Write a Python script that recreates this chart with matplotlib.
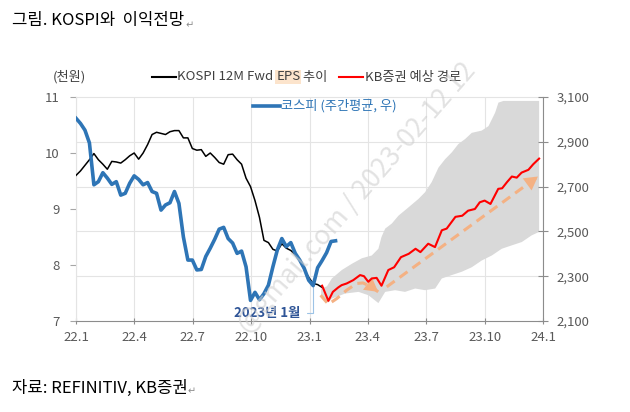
import numpy as np
import matplotlib.pyplot as plt
from matplotlib.lines import Line2D
from matplotlib.ticker import FixedLocator

plt.rcParams['font.family'] = ['Noto Sans CJK KR', 'DejaVu Sans']

# x축: 2022년 1월부터의 개월 수
x_ticks = [0, 3, 6, 9, 12, 15, 18, 21, 24]
x_labels = ['22.1', '22.4', '22.7', '22.10', '23.1', '23.4', '23.7', '23.10', '24.1']
week = 12 / 52.18  # 주간 간격 (개월)

# KOSPI 12M Fwd EPS (천원, 주간)
eps = [9.60, 9.68, 9.78, 9.88, 9.99, 9.88, 9.80, 9.71, 9.85, 9.84,
       9.82, 9.88, 9.95, 10.0, 9.89, 10.0, 10.15, 10.33, 10.37, 10.35,
       10.33, 10.38, 10.40, 10.40, 10.27, 10.27, 10.08, 10.05, 10.06, 9.94,
       10.0, 9.92, 9.83, 9.80, 9.97, 9.98, 9.88, 9.80, 9.55, 9.40,
       9.15, 8.85, 8.44, 8.40, 8.28, 8.25, 8.38, 8.30, 8.26, 8.18,
       8.08, 7.92, 7.78, 7.67, 7.65, 7.60]

# 코스피 주간평균 (우축)
kospi = [3005, 2982, 2952, 2895, 2708, 2722, 2762, 2738, 2710, 2722,
         2662, 2670, 2715, 2748, 2732, 2708, 2718, 2678, 2670, 2595,
         2618, 2628, 2678, 2625, 2475, 2372, 2372, 2328, 2330, 2388,
         2425, 2465, 2510, 2518, 2468, 2448, 2402, 2412, 2342, 2192,
         2228, 2195, 2222, 2260, 2342, 2418, 2468, 2432, 2450, 2402,
         2372, 2335, 2282, 2258, 2338, 2370, 2405, 2455, 2458]

# KB증권 예상 경로 (천원)
fc_x = [12.65, 12.97, 13.2, 13.48, 13.65, 13.91, 14.25, 14.6, 14.8, 15.02,
        15.2, 15.45, 15.7, 16.05, 16.35, 16.7, 17.1, 17.45, 17.7, 18.1,
        18.45, 18.8, 19.05, 19.5, 19.85, 20.15, 20.5, 20.75, 21.0, 21.3,
        21.7, 21.9, 22.15, 22.4, 22.65, 22.9, 23.25, 23.5, 23.8]
fc_y = [7.63, 7.36, 7.52, 7.60, 7.64, 7.67, 7.73, 7.82, 7.80, 7.70,
        7.76, 7.77, 7.63, 7.91, 7.96, 8.14, 8.20, 8.29, 8.23, 8.38,
        8.32, 8.62, 8.65, 8.86, 8.88, 8.97, 9.00, 9.12, 9.15, 9.09,
        9.36, 9.37, 9.48, 9.58, 9.56, 9.65, 9.70, 9.80, 9.90]

# 예상 범위 (음영)
band_up_x = [12.6, 12.9, 13.15, 13.66, 14.17, 14.69, 15.2, 15.54, 15.7, 15.89,
             16.23, 16.57, 17.09, 17.6, 17.94, 18.28, 18.63, 18.97, 19.31, 19.65,
             20.0, 20.34, 20.85, 21.2, 21.54, 21.71, 21.97, 23.8]
band_up = [7.58, 7.62, 7.76, 7.91, 8.02, 8.12, 8.17, 8.29, 8.50, 8.65,
           8.74, 8.88, 9.03, 9.18, 9.30, 9.48, 9.74, 9.89, 10.01, 10.16,
           10.25, 10.36, 10.40, 10.48, 10.72, 10.90, 10.93, 10.93]
band_lo_x = [12.6, 12.97, 13.15, 13.83, 14.52, 15.03, 15.54, 15.89, 16.40, 16.91,
             17.43, 17.94, 18.46, 18.8, 19.31, 19.83, 20.34, 20.85, 21.37, 21.88,
             22.39, 22.91, 23.42, 23.8]
band_lo = [7.42, 7.33, 7.40, 7.49, 7.52, 7.46, 7.32, 7.52, 7.55, 7.52,
           7.58, 7.55, 7.58, 7.76, 7.82, 7.88, 7.96, 8.08, 8.17, 8.29,
           8.35, 8.41, 8.53, 8.59]

# 점선 화살표 경로
arrow1_x = [12.57, 12.97, 13.40, 13.91, 14.42, 14.75, 15.19, 15.53]
arrow1_y = [7.46, 7.30, 7.40, 7.55, 7.67, 7.68, 7.61, 7.52]
arrow2_x = [15.97, 23.74]
arrow2_y = [7.61, 9.58]

blue = '#2E75B6'
orange = '#F4B183'
grid_c = '#E4E4E4'
label_c = '#595959'


def fx(px):
    return px / 630


def fy(py):
    return 1 - py / 412


fig = plt.figure(figsize=(6.3, 4.12), dpi=100)
ax = fig.add_axes([fx(76), fy(321), (543 - 76) / 630, (321 - 97) / 412])
ax2 = ax.twinx()

ax.set_xlim(0, 24)
ax.set_ylim(7, 11)
ax2.set_ylim(2100, 3100)

# 음영, EPS, 예상 경로
ax.fill(np.concatenate([band_up_x, band_lo_x[::-1]]),
        np.concatenate([band_up, band_lo[::-1]]),
        color='#D9D9D9', lw=0, zorder=1)
eps_x = np.arange(len(eps)) * week
ax.plot(eps_x, eps, color='black', lw=1.1, zorder=3)
ax.plot(fc_x, fc_y, color='#FF0000', lw=1.5, zorder=4)

ax.plot(arrow1_x, arrow1_y, color=orange, lw=2.2, dashes=(3.2, 2), zorder=3)
ax.plot(arrow2_x, arrow2_y, color=orange, lw=2.2, dashes=(3.2, 2), zorder=3)


def head(xs, ys):
    # 마지막 구간 방향으로 화살촉만 그림
    p0 = ax.transData.transform((xs[-2], ys[-2]))
    p1 = ax.transData.transform((xs[-1], ys[-1]))
    d = (p1 - p0) / np.hypot(*(p1 - p0)) * 20
    ax.annotate('', xy=(xs[-1], ys[-1]), xytext=(-d[0], -d[1]),
                textcoords='offset pixels',
                arrowprops=dict(arrowstyle='-|>,head_length=0.8,head_width=0.45',
                                fc=orange, ec='none', lw=0, shrinkA=0, shrinkB=0,
                                mutation_scale=12), zorder=3)


head(arrow1_x, arrow1_y)
head(arrow2_x, arrow2_y)

# 코스피 (우축)
kospi_x = np.arange(len(kospi)) * week
ax2.plot(kospi_x, kospi, color=blue, lw=2.6, zorder=5)
i_min = 53
ax2.annotate('2023년 1월', xy=(kospi_x[i_min], kospi[i_min]),
             xytext=(-9.5, -20), textcoords='offset points',
             ha='right', va='center', fontsize=9.5, color='#2F5597',
             fontweight='bold',
             arrowprops=dict(arrowstyle='-', color='#9DC3E6', lw=0.8,
                             relpos=(1, 0.5), shrinkA=3, shrinkB=0,
                             connectionstyle='angle,angleA=0,angleB=90,rad=0'))

# 축 / 눈금
ax.set_xticks(x_ticks, x_labels)
ax.set_yticks([7, 8, 9, 10, 11])
ax2.set_yticks(range(2100, 3101, 200))
ax2.set_yticklabels([f'{v:,}' for v in range(2100, 3101, 200)])

ax.yaxis.set_minor_locator(FixedLocator(7 + (np.arange(2300, 3000, 200) - 2100) / 250))
ax.grid(axis='x', color=grid_c, lw=0.8)
ax.grid(axis='y', which='minor', color=grid_c, lw=0.8)
ax.set_axisbelow(True)

ax.tick_params(axis='x', direction='inout', length=5, color='#8C8C8C',
               labelcolor=label_c, labelsize=9.5, pad=5)
ax.tick_params(axis='y', which='major', length=4, color='#A6A6A6',
               labelcolor=label_c, labelsize=9.5, pad=8)
ax.tick_params(axis='y', which='minor', length=0)
ax2.tick_params(axis='y', direction='inout', length=7, color='#8C8C8C',
                labelcolor=label_c, labelsize=9.5, pad=6)

for s in ['left', 'top']:
    ax.spines[s].set_color(grid_c)
ax.spines['right'].set_visible(False)
ax.spines['bottom'].set_color('#8C8C8C')
for s in ['left', 'top', 'bottom']:
    ax2.spines[s].set_visible(False)
ax2.spines['right'].set_color('#8C8C8C')

# 범례
fig.text(fx(53), fy(77), '(천원)', fontsize=9.5, color='#404040', va='center')
fig.add_artist(Line2D([fx(152), fx(176)], [fy(77)] * 2, color='black', lw=1.5))
t1 = fig.text(fx(177), fy(77), 'KOSPI 12M Fwd ', fontsize=9.5, color='#404040', va='center')
t2 = plt.annotate('EPS', xy=(1, 0), xycoords=t1, va='bottom', fontsize=9.5,
                  color='#404040', bbox=dict(fc='#FCE4CC', ec='none', pad=0.6))
plt.annotate(' 추이', xy=(1, 0), xycoords=t2, va='bottom', fontsize=9.5, color='#404040')
fig.add_artist(Line2D([fx(339), fx(363)], [fy(77)] * 2, color='#FF0000', lw=1.5))
fig.text(fx(365), fy(77), 'KB증권 예상 경로', fontsize=9.5, color='#404040', va='center')
fig.add_artist(Line2D([fx(253), fx(280)], [fy(106)] * 2, color=blue, lw=2.6))
fig.text(fx(281), fy(106), '코스피 (주간평균, 우)', fontsize=9.5, color=blue, va='center')

# 제목 / 출처
title = fig.text(fx(12), fy(21), '그림. KOSPI와  이익전망', fontsize=12, va='center')
plt.annotate(' ↵', xy=(1, 0), xycoords=title, va='bottom', fontsize=7, color='#8C8C8C')
src = fig.text(fx(12), fy(388), '자료: REFINITIV, KB증권', fontsize=12, va='center')
plt.annotate('↵', xy=(1, 0), xycoords=src, va='bottom', fontsize=7, color='#8C8C8C')

# 워터마크
fig.text(fx(357), fy(198), '@gmail.com / 2023-02-12 12', fontsize=19, color='#CFCFCF',
         alpha=0.6, rotation=49, ha='center', va='center', zorder=10)

fig.savefig('out.png', dpi=100)
